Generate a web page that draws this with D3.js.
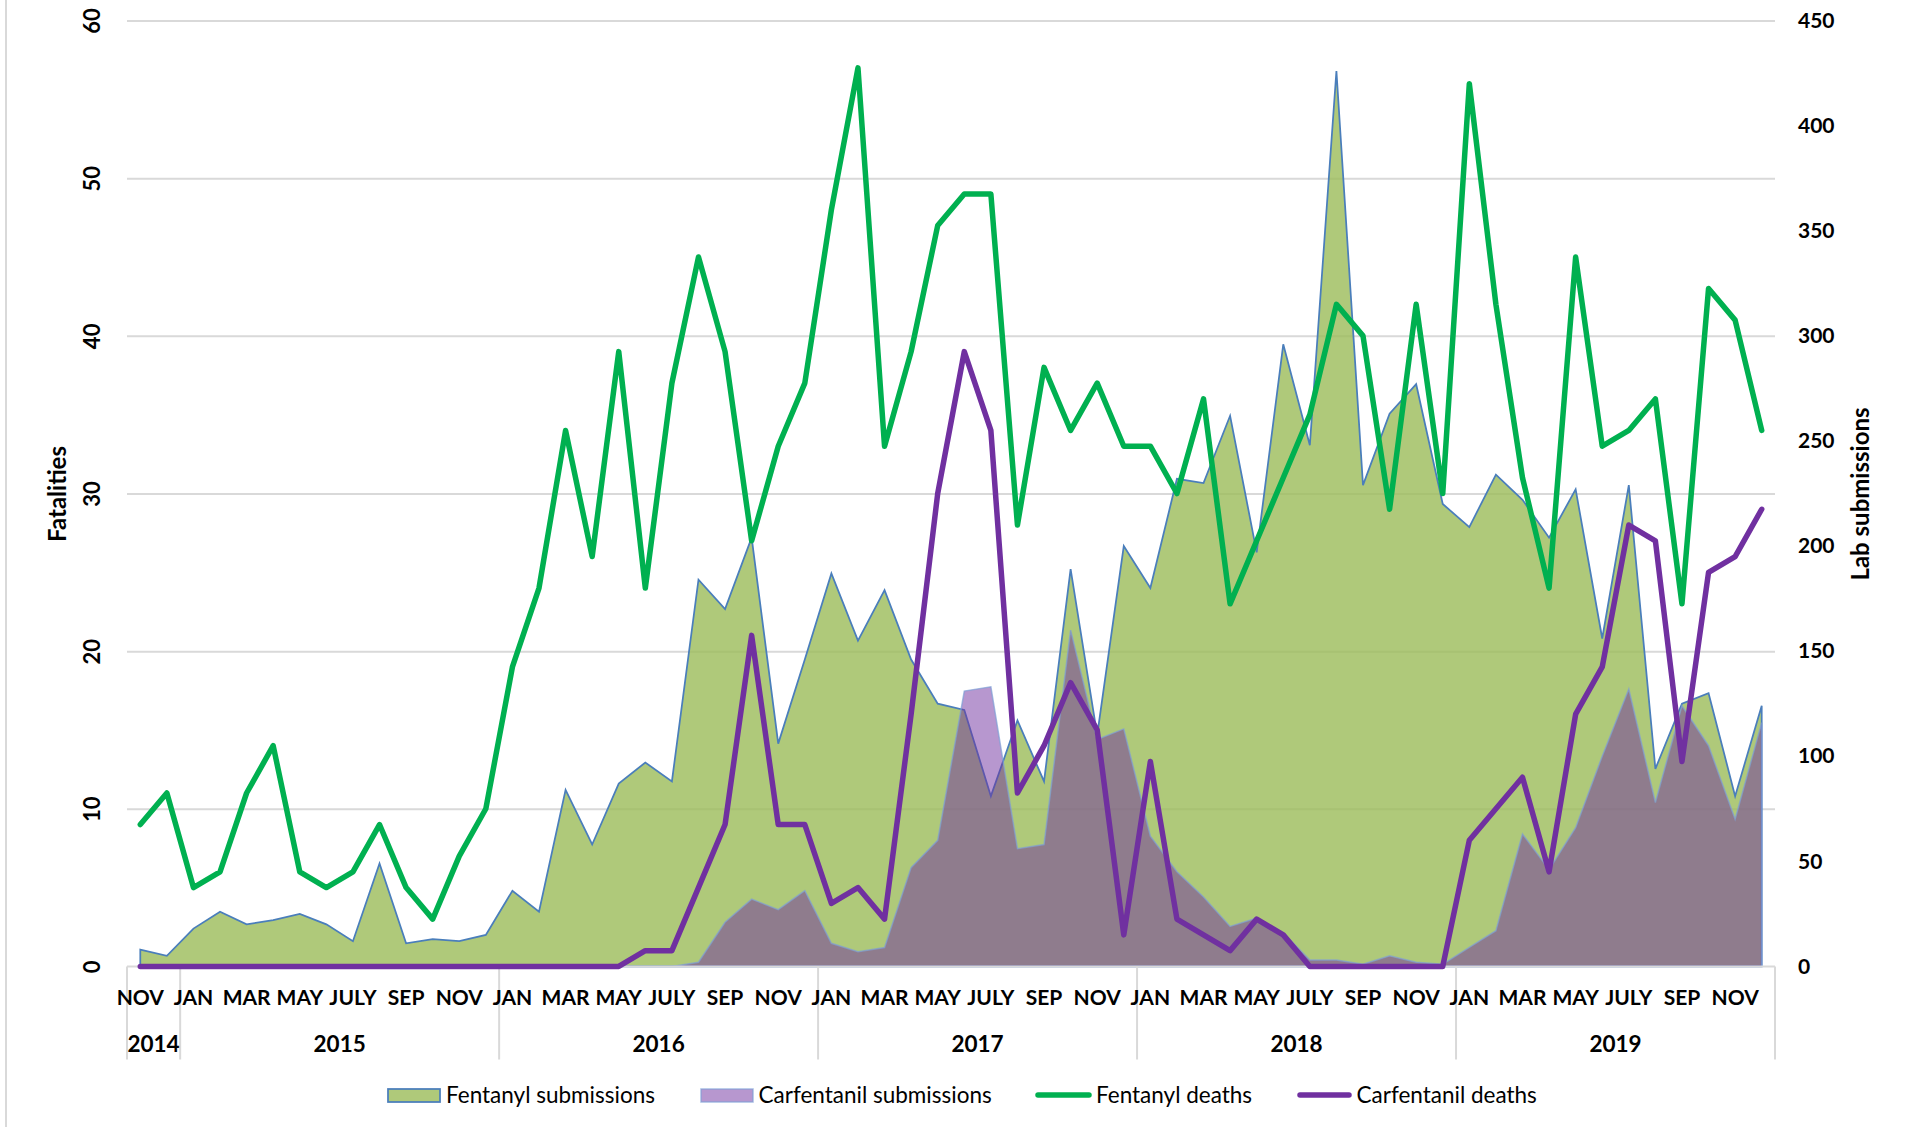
<!DOCTYPE html>
<html>
<head>
<meta charset="utf-8">
<script src="https://cdn.jsdelivr.net/npm/d3@7"></script>
<style>
  body { margin: 0; background: #fff; }
  svg { display: block; font-family: Lato, "Open Sans", sans-serif; }
</style>
</head>
<body>
<svg id="chart" width="1906" height="1127"></svg>
<script>
// months run from NOV 2014 to DEC 2019
const years = ["2014", "2015", "2016", "2017", "2018", "2019"];
const monthNames = ["JAN", "FEB", "MAR", "APR", "MAY", "JUN", "JULY", "AUG", "SEP", "OCT", "NOV", "DEC"];
const firstMonth = 10; // NOV

const fentanylSubmissions = [
  8, 5, 18, 26, 20, 22, 25, 20, 12, 49, 11, 13, 12, 15,
  36, 26, 84, 58, 87, 97, 88, 184, 170, 204, 106, 146,
  187, 155, 179, 146, 125, 122, 81, 117, 88, 189, 110, 200,
  180, 232, 230, 262, 197, 296, 248, 426, 229, 263, 277, 220,
  209, 234, 222, 204, 227, 156, 229, 94, 125, 130, 81, 124
];
const carfentanilSubmissions = [
  0, 0, 0, 0, 0, 0, 0, 0, 0, 0, 0, 0, 0, 0,
  0, 0, 0, 0, 0, 0, 0, 2, 21, 32, 27, 36,
  11, 7, 9, 47, 60, 131, 133, 56, 58, 160, 108, 113,
  62, 45, 33, 19, 23, 16, 3, 3, 1, 5, 2, 1,
  9, 17, 63, 46, 66, 100, 132, 78, 124, 105, 70, 116
];
const fentanylDeaths = [
  9, 11, 5, 6, 11, 14, 6, 5, 6, 9, 5, 3, 7, 10,
  19, 24, 34, 26, 39, 24, 37, 45, 39, 27, 33, 37,
  48, 57, 33, 39, 47, 49, 49, 28, 38, 34, 37, 33,
  33, 30, 36, 23, 27, 31, 35, 42, 40, 29, 42, 30,
  56, 42, 31, 24, 45, 33, 34, 36, 23, 43, 41, 34
];
const carfentanilDeaths = [
  0, 0, 0, 0, 0, 0, 0, 0, 0, 0, 0, 0, 0, 0,
  0, 0, 0, 0, 0, 1, 1, 5, 9, 21, 9, 9,
  4, 5, 3, 16, 30, 39, 34, 11, 14, 18, 15, 2,
  13, 3, 2, 1, 3, 2, 0, 0, 0, 0, 0, 0,
  8, 10, 12, 6, 16, 19, 28, 27, 13, 25, 26, 29
];
const leftTicks = [0, 10, 20, 30, 40, 50, 60];
const rightTicks = [0, 50, 100, 150, 200, 250, 300, 350, 400, 450];

// build the month table
const months = [];
for (let i = 0; i < fentanylDeaths.length; i++) {
  let m = firstMonth + i;
  months.push({ i: i, name: monthNames[m % 12], year: years[Math.floor(m / 12)] });
}

const svg = d3.select("#chart");
const plotLeft = 127, plotRight = 1775, plotTop = 20.6, plotBottom = 966.4;

const x = d3.scaleBand().domain(d3.range(months.length)).range([plotLeft, plotRight]);
const cx = i => x(i) + x.bandwidth() / 2;
const yL = d3.scaleLinear().domain([0, 60]).range([plotBottom, plotTop]);
const yR = d3.scaleLinear().domain([0, 450]).range([plotBottom, plotTop]);

// chart frame edge on the far left
svg.append("line")
  .attr("x1", 6).attr("x2", 6).attr("y1", 0).attr("y2", 1127)
  .attr("stroke", "#d9d9d9").attr("stroke-width", 2);

// gridlines
const grid = svg.append("g")
  .attr("transform", "translate(" + plotLeft + ",0)")
  .call(d3.axisLeft(yL).tickValues(leftTicks.slice(1)).tickSize(-(plotRight - plotLeft)).tickFormat(""));
grid.select(".domain").remove();
grid.selectAll("line").attr("stroke", "#d9d9d9").attr("stroke-width", 2);

///////////
// AREAS //
///////////

const area = d3.area()
  .x((d, i) => cx(i))
  .y0(yR(0))
  .y1(d => yR(d));

svg.append("path")
  .datum(fentanylSubmissions)
  .attr("d", area)
  .attr("fill", "#9bbb59")
  .attr("fill-opacity", 0.8)
  .attr("stroke", "#4a7ebb")
  .attr("stroke-width", 1.75);

svg.append("path")
  .datum(carfentanilSubmissions)
  .attr("d", area)
  .attr("fill", "#7030a0")
  .attr("fill-opacity", 0.5)
  .attr("stroke", "#7f9fd6")
  .attr("stroke-opacity", 0.7)
  .attr("stroke-width", 1.5);

// category axis line + year separators
svg.append("line")
  .attr("x1", plotLeft).attr("x2", plotRight).attr("y1", plotBottom).attr("y2", plotBottom)
  .attr("stroke", "#d9d9d9").attr("stroke-width", 2);

const yearStarts = years.map(y => months.findIndex(m => m.year === y));
const sepX = yearStarts.map(i => x(i)).concat([plotRight]);
svg.selectAll(".sep")
  .data(sepX)
  .enter().append("line")
  .attr("class", "sep")
  .attr("x1", d => d).attr("x2", d => d)
  .attr("y1", plotBottom).attr("y2", 1059.5)
  .attr("stroke", "#d9d9d9").attr("stroke-width", 2);

///////////
// LINES //
///////////

const line = d3.line()
  .x((d, i) => cx(i))
  .y(d => yL(d));

svg.append("path")
  .datum(fentanylDeaths)
  .attr("d", line)
  .attr("fill", "none")
  .attr("stroke", "#00b050")
  .attr("stroke-width", 5.5)
  .attr("stroke-linejoin", "round")
  .attr("stroke-linecap", "round");

svg.append("path")
  .datum(carfentanilDeaths)
  .attr("d", line)
  .attr("fill", "none")
  .attr("stroke", "#7030a0")
  .attr("stroke-width", 5.5)
  .attr("stroke-linejoin", "round")
  .attr("stroke-linecap", "round");

//////////
// AXES //
//////////

// left axis, labels turned on their side
const yAxisL = svg.append("g")
  .attr("transform", "translate(" + plotLeft + ",0)")
  .call(d3.axisLeft(yL).tickValues(leftTicks).tickSize(0).tickFormat(d3.format("d")));
yAxisL.select(".domain").remove();
yAxisL.selectAll("text")
  .attr("x", null).attr("dy", null)
  .attr("transform", "translate(" + (91 - plotLeft) + ",0) rotate(-90)")
  .attr("text-anchor", "middle")
  .attr("dominant-baseline", "central")
  .style("font-size", "22px").style("font-weight", 700).style("font-family", "Lato").attr("fill", "#000");

const yAxisR = svg.append("g")
  .attr("transform", "translate(" + plotRight + ",0)")
  .call(d3.axisRight(yR).tickValues(rightTicks).tickSize(0).tickPadding(23));
yAxisR.select(".domain").remove();
yAxisR.selectAll("text")
  .style("font-size", "21px").style("font-weight", 700).style("font-family", "Lato").attr("fill", "#000");

const xAxis = svg.append("g")
  .attr("transform", "translate(0," + plotBottom + ")")
  .call(d3.axisBottom(x)
    .tickValues(d3.range(0, months.length, 2))
    .tickSize(0).tickPadding(24)
    .tickFormat(i => months[i].name));
xAxis.select(".domain").remove();
xAxis.selectAll("text")
  .style("font-size", "21px").style("font-weight", 700).style("font-family", "Lato").attr("fill", "#000");

// year labels centred under each group
svg.selectAll(".year")
  .data(years)
  .enter().append("text")
  .attr("class", "year")
  .attr("x", (d, k) => (sepX[k] + sepX[k + 1]) / 2)
  .attr("y", 1052)
  .attr("text-anchor", "middle")
  .style("font-size", "22.5px").style("font-weight", 700)
  .text(d => d);

// axis titles
svg.append("text")
  .attr("transform", "translate(66,494) rotate(-90)")
  .attr("text-anchor", "middle")
  .style("font-size", "24px").style("font-weight", 700)
  .text("Fatalities");

svg.append("text")
  .attr("transform", "translate(1869,494) rotate(-90)")
  .attr("text-anchor", "middle")
  .style("font-size", "24px").style("font-weight", 700)
  .text("Lab submissions");

////////////
// LEGEND //
////////////

const legend = svg.append("g").style("font-size", "22.5px");

legend.append("rect")
  .attr("x", 388).attr("y", 1089).attr("width", 52).attr("height", 13)
  .attr("fill", "#9bbb59").attr("fill-opacity", 0.8)
  .attr("stroke", "#4a7ebb").attr("stroke-width", 1.75);
legend.append("text").attr("x", 446).attr("y", 1103).text("Fentanyl submissions");

legend.append("rect")
  .attr("x", 701).attr("y", 1089).attr("width", 52).attr("height", 13)
  .attr("fill", "#7030a0").attr("fill-opacity", 0.5)
  .attr("stroke", "#7f9fd6").attr("stroke-opacity", 0.7).attr("stroke-width", 1.5);
legend.append("text").attr("x", 758.5).attr("y", 1103).text("Carfentanil submissions");

legend.append("line")
  .attr("x1", 1038).attr("x2", 1089).attr("y1", 1095).attr("y2", 1095)
  .attr("stroke", "#00b050").attr("stroke-width", 5.5).attr("stroke-linecap", "round");
legend.append("text").attr("x", 1096).attr("y", 1103).text("Fentanyl deaths");

legend.append("line")
  .attr("x1", 1300).attr("x2", 1349).attr("y1", 1095).attr("y2", 1095)
  .attr("stroke", "#7030a0").attr("stroke-width", 5.5).attr("stroke-linecap", "round");
legend.append("text").attr("x", 1356.5).attr("y", 1103).text("Carfentanil deaths");
</script>
</body>
</html>
